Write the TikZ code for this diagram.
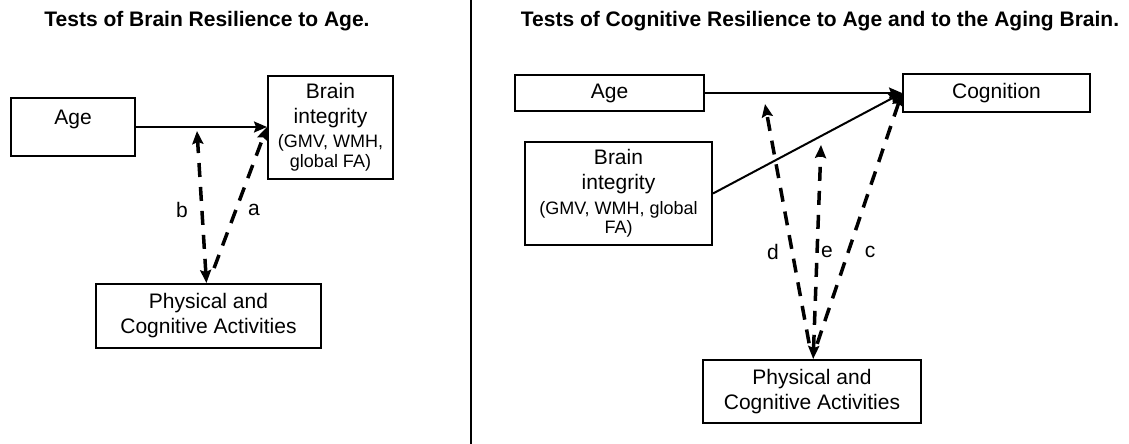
\documentclass[tikz,border=0pt]{standalone}
\usepackage{fontspec}
\setmainfont{Liberation Sans}
\usepackage{tikz}
\usetikzlibrary{arrows.meta}
\tikzstyle{boite}=[rectangle,draw,line width=2pt,align=center,inner sep=3pt,font=\fontsize{21}{25}\selectfont]
\tikzstyle{titre}=[font=\bfseries\fontsize{21}{25}\selectfont]
\tikzstyle{lettre}=[font=\fontsize{21}{25}\selectfont]
\tikzstyle{suite}=[->,>={Stealth[length=13pt,width=11pt,inset=2pt]},line width=2pt]
\tikzstyle{effet}=[suite,line width=3.5pt,dash pattern=on 14pt off 10pt]
\newcommand{\petit}{\fontsize{18}{20}\selectfont}

\begin{document}
\begin{tikzpicture}[x=1pt,y=-1pt]
\useasboundingbox (0,0) rectangle (1129,444);
\node[titre] (t1) at (207,21) {Tests of Brain Resilience to Age.};
\node[titre] (t2) at (820,21) {Tests of Cognitive Resilience to Age and to the Aging Brain.};
\draw[line width=2.5pt] (471,0) -- (471,444);
% left
\node[boite,minimum width=124pt,minimum height=58pt,text height=15pt,text depth=21pt] (age1) at (73,127) {Age};
\node[boite,minimum width=125pt,minimum height=103pt] (brain1) at (330.5,127) {Brain\\integrity\\[-1pt]{\petit (GMV, WMH,}\\[-5pt]{\petit global FA)}};
\node[boite,minimum width=225pt,minimum height=64pt] (act1) at (208.5,316) {Physical and\\Cognitive Activities};
\coordinate (m1) at (197,131);
% right
\node[boite,minimum width=189pt,minimum height=36pt] (age2) at (609.5,93) {Age};
\node[boite,minimum width=187pt,minimum height=38pt] (cog) at (996.5,93) {Cognition};
\node[boite,minimum width=187pt,minimum height=103pt] (brain2) at (618.5,193.5) {Brain\\integrity\\{\petit (GMV, WMH, global}\\[-6pt]{\petit FA)}};
\node[boite,minimum width=218pt,minimum height=63pt] (act2) at (812,391.5) {Physical and\\Cognitive Activities};
\coordinate (m2) at (765,104);
\coordinate (m3) at (821,145);
%fleches
\draw[suite] (age1) -- (brain1);
\draw[effet,<->] (act1) -- (m1);
\draw[effet,shorten <=16pt] (act1.north) -- (brain1.west);
\draw[suite] (age2) -- (cog);
\draw[suite] (brain2.east) -- (cog.west);
\draw[effet,<->] (act2) -- (m3);
\draw[effet,shorten <=16pt] (act2.north) -- (m2);
\draw[effet,shorten <=16pt] (act2.north) -- (cog.west);
\node[lettre] (lb) at (182,210) {b};
\node[lettre] (la) at (254,210) {a};
\node[lettre] (ld) at (773,252) {d};
\node[lettre] (le) at (827,252) {e};
\node[lettre] (lc) at (870,252) {c};
\end{tikzpicture}
\end{document}
